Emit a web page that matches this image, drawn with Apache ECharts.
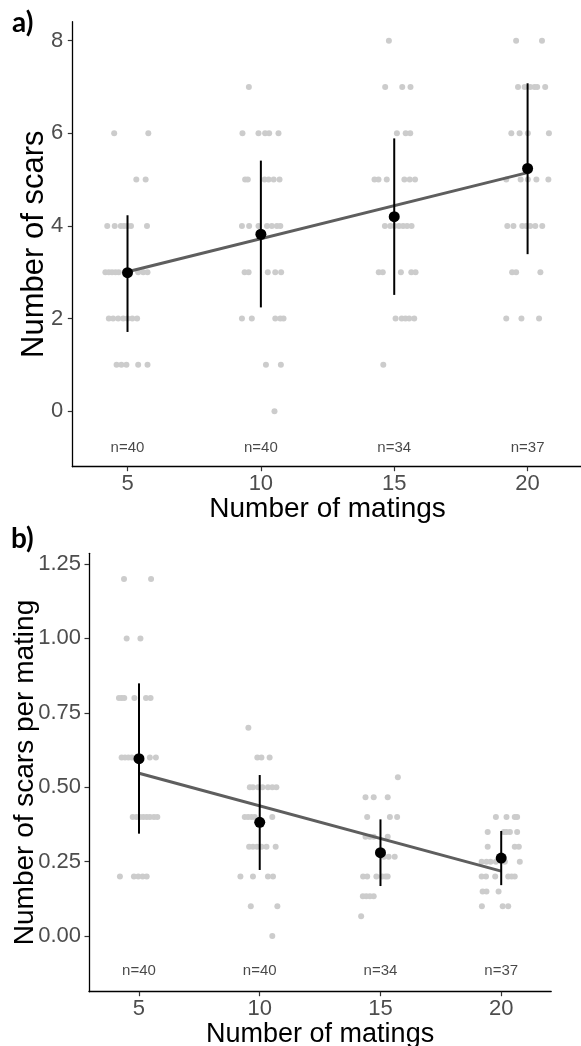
<!DOCTYPE html>
<html><head><meta charset="utf-8">
<script src="https://cdn.jsdelivr.net/npm/echarts@6/dist/echarts.min.js"></script>
<style>html,body{margin:0;padding:0;background:#fff}#c{width:581px;height:1046px}</style>
</head><body><div id="c"></div>
<script>
// ---------- data ----------
const matingTicks = [5, 10, 15, 20];
const nLabels = ['n=40', 'n=40', 'n=34', 'n=37'];
const scarTicks = [0, 2, 4, 6, 8];
const perMatingTicks = [0, 0.25, 0.5, 0.75, 1.0, 1.25];

// panel a: raw points [jittered matings, scars]
const scarsRaw5 = [
  [4.50,6],[5.78,6],
  [5.33,5],[5.68,5],
  [4.24,4],[4.52,4],[4.75,4],[4.87,4],[5.00,4],[5.13,4],[5.73,4],
  [4.17,3],[4.30,3],[4.42,3],[4.55,3],[4.67,3],[5.00,3],[5.40,3],[5.59,3],[5.75,3],
  [4.30,2],[4.46,2],[4.65,2],[4.84,2],[5.00,2],[5.18,2],[5.36,2],
  [4.59,1],[4.77,1],[4.96,1],[5.40,1],[5.75,1]
];
const scarsRaw10 = [
  [9.55,7],
  [9.31,6],[9.91,6],[10.16,6],[10.31,6],[10.66,6],
  [9.41,5],[9.51,5],[10.14,5],[10.29,5],[10.48,5],[10.70,5],
  [9.29,4],[9.56,4],[9.91,4],[10.23,4],[10.41,4],[10.60,4],[10.73,4],
  [9.39,3],[9.54,3],[10.26,3],[10.54,3],[10.76,3],
  [9.29,2],[9.66,2],[10.54,2],[10.73,2],[10.85,2],
  [10.19,1],[10.75,1],
  [10.51,0]
];
const scarsRaw15 = [
  [14.80,8],
  [14.66,7],[15.30,7],[15.61,7],
  [15.10,6],[15.43,6],[15.60,6],
  [14.26,5],[14.41,5],[14.72,5],[15.38,5],[15.58,5],[15.78,5],
  [14.65,4],[14.85,4],[15.01,4],[15.18,4],[15.33,4],[15.48,4],[15.65,4],
  [14.42,3],[14.57,3],[15.25,3],[15.64,3],[15.80,3],
  [15.05,2],[15.28,2],[15.42,2],[15.56,2],[15.75,2],
  [14.59,1]
];
const scarsRaw20 = [
  [19.57,8],[20.54,8],
  [19.64,7],[19.89,7],[20.10,7],[20.26,7],[20.36,7],[20.66,7],
  [19.39,6],[19.70,6],[20.01,6],[20.80,6],
  [19.20,5],[19.74,5],[20.01,5],[20.33,5],[20.78,5],
  [19.24,4],[19.47,4],[19.80,4],[19.95,4],[20.10,4],[20.29,4],[20.55,4],
  [19.42,3],[19.57,3],[20.48,3],
  [19.20,2],[19.77,2],[20.43,2]
];
const scarsMean = [2.99, 3.82, 4.20, 5.24];
const scarsLow  = [1.71, 2.24, 2.51, 3.39];
const scarsHigh = [4.23, 5.41, 5.89, 7.08];
const scarsFit  = [3.01, 5.15];          // fitted values at 5 and 20 matings
const scarsNLabelY = -0.8;

// panel b: raw points [jittered matings, scars per mating]
const perMatingRaw5 = [
  [4.38,1.2],[5.50,1.2],
  [4.49,1.0],[5.06,1.0],
  [4.17,0.8],[4.28,0.8],[4.39,0.8],[4.81,0.8],[5.29,0.8],[5.48,0.8],
  [4.28,0.6],[4.42,0.6],[4.56,0.6],[4.70,0.6],[5.00,0.6],[5.45,0.6],[5.70,0.6],
  [4.74,0.4],[4.90,0.4],[5.04,0.4],[5.18,0.4],[5.32,0.4],[5.45,0.4],[5.62,0.4],[5.76,0.4],
  [4.21,0.2],[4.79,0.2],[4.97,0.2],[5.15,0.2],[5.32,0.2]
];
const perMatingRaw10 = [
  [9.53,0.7],
  [9.90,0.6],[10.07,0.6],[10.41,0.6],
  [9.59,0.5],[9.72,0.5],[9.93,0.5],[10.11,0.5],[10.34,0.5],[10.52,0.5],[10.69,0.5],
  [9.38,0.4],[9.52,0.4],[9.66,0.4],[9.79,0.4],[10.52,0.4],
  [9.56,0.3],[9.72,0.3],[9.89,0.3],[10.07,0.3],[10.28,0.3],[10.66,0.3],
  [9.20,0.2],[9.72,0.2],[10.34,0.2],[10.55,0.2],
  [9.63,0.1],[10.73,0.1],
  [10.52,0.0]
];
const perMatingRaw15 = [
  [15.72,0.5333],
  [14.38,0.4667],[14.72,0.4667],[15.30,0.4667],
  [14.45,0.4],[15.39,0.4],[15.69,0.4],
  [14.38,0.3333],[14.56,0.3333],[14.72,0.3333],[15.30,0.3333],
  [15.14,0.2667],[15.34,0.2667],[15.59,0.2667],
  [14.28,0.2],[14.45,0.2],[14.83,0.2],[15.07,0.2],[15.21,0.2],[15.30,0.2],
  [14.27,0.1333],[14.41,0.1333],[14.56,0.1333],[14.72,0.1333],
  [14.20,0.0667]
];
const perMatingRaw20 = [
  [19.78,0.4],[20.22,0.4],[20.56,0.4],[20.66,0.4],
  [19.44,0.35],[20.11,0.35],[20.22,0.35],[20.36,0.35],[20.66,0.35],
  [19.44,0.3],[20.56,0.3],[20.73,0.3],
  [19.19,0.25],[19.39,0.25],[19.56,0.25],[19.78,0.25],[20.15,0.25],[20.77,0.25],
  [19.19,0.2],[19.37,0.2],[19.75,0.2],[20.29,0.2],[20.43,0.2],[20.56,0.2],
  [19.23,0.15],[19.39,0.15],[19.89,0.15],
  [19.20,0.1],[20.06,0.1],[20.29,0.1]
];
const perMatingMean = [0.596, 0.382, 0.280, 0.262];
const perMatingLow  = [0.344, 0.222, 0.168, 0.171];
const perMatingHigh = [0.849, 0.541, 0.392, 0.353];
const perMatingFit  = [0.547, 0.218];     // fitted values at 5 and 20 matings
const perMatingNLabelY = -0.118;

// ---------- chart ----------
const FONT = 'Liberation Sans';
const chart = echarts.init(document.getElementById('c'), null, {renderer: 'canvas'});

function xAxisDef(gridIndex, titleSize) {
  return {
    type: 'value', gridIndex, min: 2.93, max: 22.07,
    name: 'Number of matings', nameLocation: 'middle', nameGap: 29,
    nameTextStyle: {fontFamily: FONT, fontSize: titleSize, color: '#000'},
    axisLine: {onZero: false, lineStyle: {color: '#000', width: 1.3}},
    axisTick: {customValues: matingTicks, length: 4.5, lineStyle: {color: '#333', width: 1.2}},
    axisLabel: {customValues: matingTicks, fontFamily: FONT, fontSize: 22, color: '#4d4d4d', margin: 6},
    splitLine: {show: false}
  };
}
function yAxisDef(gridIndex, min, max, ticks, name, titleSize, gap, margin, fmt) {
  return {
    type: 'value', gridIndex, min, max,
    name, nameLocation: 'middle', nameGap: gap, nameMoveOverlap: false,
    nameTextStyle: {fontFamily: FONT, fontSize: titleSize, color: '#000'},
    axisLine: {show: true, onZero: false, lineStyle: {color: '#000', width: 1.3}},
    axisTick: {show: true, customValues: ticks, length: 4.5, lineStyle: {color: '#333', width: 1.2}},
    axisLabel: {customValues: ticks, fontFamily: FONT, fontSize: 22, color: '#4d4d4d', margin,
      formatter: fmt || (v => String(v))},
    splitLine: {show: false}
  };
}
function rawSeries(idx, data) {
  return {type: 'scatter', xAxisIndex: idx, yAxisIndex: idx, data, symbolSize: 6,
    itemStyle: {color: '#cccccc', opacity: 1}, z: 1, silent: true};
}
function panelSeries(idx, raws, mean, low, high, fit, nY) {
  const s = raws.map(r => rawSeries(idx, r));
  s.push({type: 'line', xAxisIndex: idx, yAxisIndex: idx, symbol: 'none',
    data: [[matingTicks[0], fit[0]], [matingTicks[3], fit[1]]],
    lineStyle: {color: '#5e5e5e', width: 3}, z: 2, silent: true});
  s.push({type: 'custom', xAxisIndex: idx, yAxisIndex: idx, z: 3,
    data: matingTicks.map((m, i) => [m, low[i], high[i]]),
    encode: {x: 0, y: [1, 2]},
    renderItem: (params, api) => {
      const a = api.coord([api.value(0), api.value(1)]);
      const b = api.coord([api.value(0), api.value(2)]);
      return {type: 'line', shape: {x1: a[0], y1: a[1], x2: b[0], y2: b[1]},
        style: {stroke: '#000', lineWidth: 2}};
    }});
  s.push({type: 'scatter', xAxisIndex: idx, yAxisIndex: idx, z: 4,
    data: matingTicks.map((m, i) => [m, mean[i]]), symbolSize: 11,
    itemStyle: {color: '#000', opacity: 1}});
  s.push({type: 'scatter', xAxisIndex: idx, yAxisIndex: idx, z: 4, symbolSize: 0,
    data: matingTicks.map((m, i) => ({value: [m, nY], name: nLabels[i]})),
    label: {show: true, position: 'inside', formatter: p => p.name,
      fontFamily: FONT, fontSize: 15, color: '#1a1a1a'}});
  return s;
}

const option = {
  animation: false,
  backgroundColor: '#fff',
  grid: [
    {left: 72.3, top: 21.7, width: 510.5, height: 445, containLabel: false, outerBoundsMode: 'none'},
    {left: 89, top: 553.3, width: 462.2, height: 438.4, containLabel: false, outerBoundsMode: 'none'}
  ],
  xAxis: [xAxisDef(0, 28), xAxisDef(1, 27)],
  yAxis: [
    yAxisDef(0, -1.2, 8.41, scarTicks, 'Number of scars', 31, 22, 9, null),
    yAxisDef(1, -0.187, 1.286, perMatingTicks, 'Number of scars per mating', 28, 50, 8, v => v.toFixed(2))
  ],
  graphic: [
    {type: 'text', left: 12, top: 9, style: {text: 'a)', fontFamily: 'Lato', fontWeight: 'bold', fontSize: 28, fill: '#000'}},
    {type: 'text', left: 11, top: 525, style: {text: 'b)', fontFamily: 'Lato', fontWeight: 'bold', fontSize: 28, fill: '#000'}}
  ],
  series: [
    ...panelSeries(0, [scarsRaw5, scarsRaw10, scarsRaw15, scarsRaw20], scarsMean, scarsLow, scarsHigh, scarsFit, scarsNLabelY),
    ...panelSeries(1, [perMatingRaw5, perMatingRaw10, perMatingRaw15, perMatingRaw20], perMatingMean, perMatingLow, perMatingHigh, perMatingFit, perMatingNLabelY)
  ]
};
chart.setOption(option);
</script>
</body></html>
